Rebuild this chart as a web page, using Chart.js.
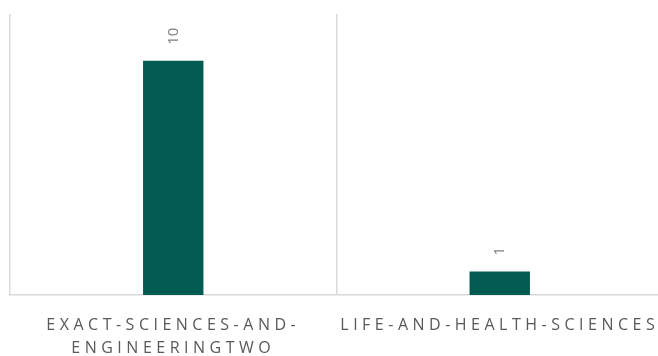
<!DOCTYPE html>
<html>
<head>
<meta charset="utf-8">
<script src="https://cdn.jsdelivr.net/npm/chart.js@4/dist/chart.umd.min.js"></script>
<style>
  html, body { margin: 0; padding: 0; background: #fff; overflow: hidden; }
  #wrap { width: 663px; height: 356px; }
</style>
</head>
<body>
<div id="wrap"><canvas id="fieldChart"></canvas></div>
<script>
// data
const categories = [['EXACT-SCIENCES-AND-', 'ENGINEERINGTWO'], 'LIFE-AND-HEALTH-SCIENCES'];
const counts = [10, 1];
const yMax = 12;

// value labels, rotated, above each bar
const valueLabels = {
    id: 'valueLabels',
    afterDatasetsDraw(chart) {
        const c = chart.ctx;
        const meta = chart.getDatasetMeta(0);
        c.save();
        c.letterSpacing = '0px';
        c.font = '15px "Open Sans", sans-serif';
        c.fillStyle = '#7f7f7f';
        c.textAlign = 'left';
        c.textBaseline = 'middle';
        meta.data.forEach((bar, i) => {
            c.save();
            c.translate(bar.x, bar.y - 16);
            c.rotate(-Math.PI / 2);
            c.fillText(String(counts[i]), 0, 0);
            c.restore();
        });
        c.restore();
    }
};

// spaced-out axis lettering
const spacedTicks = {
    id: 'spacedTicks',
    beforeDraw(chart) { chart.ctx.letterSpacing = '4.5px'; },
    beforeDatasetsDraw(chart) { chart.ctx.letterSpacing = '0px'; }
};

new Chart(document.getElementById('fieldChart'), {
    type: 'bar',
    data: {
        labels: categories,
        datasets: [{
            data: counts,
            backgroundColor: '#025b52',
            barPercentage: 0.185,
            categoryPercentage: 1
        }]
    },
    options: {
        responsive: true,
        maintainAspectRatio: false,
        animation: false,
        layout: { padding: { left: 10, right: 0, top: 14, bottom: 0 } },
        plugins: {
            legend: { display: false },
            tooltip: { enabled: false }
        },
        scales: {
            x: {
                grid: {
                    offset: true,
                    color: '#d9d9d9',
                    lineWidth: 1.5,
                    drawTicks: false
                },
                border: { display: true, color: '#d9d9d9', width: 1.5 },
                ticks: {
                    color: '#595959',
                    font: { family: '"Open Sans", sans-serif', size: 16, lineHeight: 1.44 },
                    padding: 19,
                    maxRotation: 0,
                    autoSkip: false
                },
                afterFit(scale) { scale.height = 61; }
            },
            y: {
                display: false,
                min: 0,
                max: yMax
            }
        }
    },
    plugins: [valueLabels, spacedTicks]
});
</script>
</body>
</html>
